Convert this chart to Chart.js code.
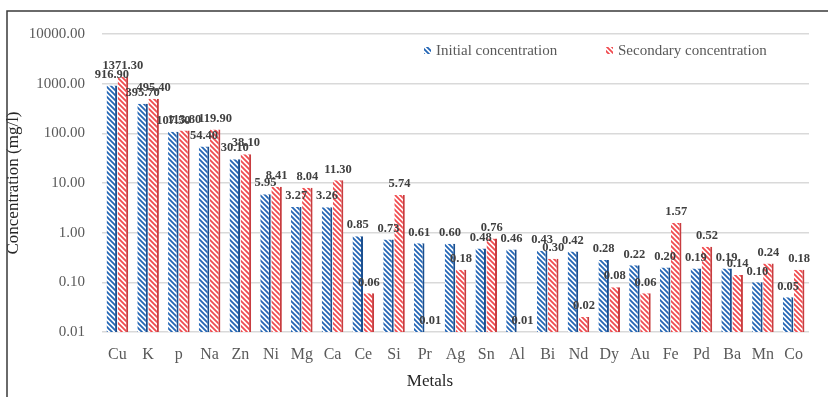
<!DOCTYPE html>
<html>
<head>
<meta charset="utf-8">
<title>Metal concentrations</title>
<script src="https://cdn.jsdelivr.net/npm/chart.js@4.4.0/dist/chart.umd.min.js"></script>
<style>
  html, body { margin: 0; padding: 0; background: #fff; }
  #wrap { position: relative; width: 828px; height: 397px; }
</style>
</head>
<body>
<div id="wrap"><canvas id="metalChart" width="828" height="397"></canvas></div>
<script>
// ---------- data ---------- //
const metals = ["Cu", "K", "p", "Na", "Zn", "Ni", "Mg", "Ca", "Ce", "Si", "Pr", "Ag",
  "Sn", "Al", "Bi", "Nd", "Dy", "Au", "Fe", "Pd", "Ba", "Mn", "Co"];
const initialConc = [916.90, 395.70, 107.50, 54.40, 30.10, 5.95, 3.27, 3.26, 0.85, 0.73, 0.61, 0.60,
  0.48, 0.46, 0.43, 0.42, 0.28, 0.22, 0.20, 0.19, 0.19, 0.10, 0.05];
const secondaryConc = [1371.30, 495.40, 113.80, 119.90, 38.10, 8.41, 8.04, 11.30, 0.06, 5.74, 0.01, 0.18,
  0.76, 0.01, 0.30, 0.02, 0.08, 0.06, 1.57, 0.52, 0.14, 0.24, 0.18];
const yTicks = [0.01, 0.1, 1, 10, 100, 1000, 10000];

const SERIF = "'Liberation Serif', 'Times New Roman', serif";

// diagonal hatch fill used for the bars and the legend swatches
function makeHatch(color) {
  const size = 5;
  const c = document.createElement("canvas");
  c.width = size;
  c.height = size;
  const g = c.getContext("2d");
  g.fillStyle = "#ffffff";
  g.fillRect(0, 0, size, size);
  g.strokeStyle = color;
  g.lineWidth = 1.8;
  g.beginPath();
  g.moveTo(-1, -1); g.lineTo(size + 1, size + 1);
  g.moveTo(-1, size - 1); g.lineTo(1, size + 1);
  g.moveTo(size - 1, -1); g.lineTo(size + 1, 1);
  g.stroke();
  return g.createPattern(c, "repeat");
}

const blueHatch = makeHatch("#2466b5");
const redHatch = makeHatch("#f04b4f");

// value labels above every bar
const valueLabels = {
  id: "valueLabels",
  afterDatasetsDraw(chart) {
    const ctx = chart.ctx;
    ctx.save();
    ctx.font = "bold 12.5px " + SERIF;
    ctx.fillStyle = "#404040";
    ctx.textAlign = "center";
    ctx.textBaseline = "middle";
    chart.data.datasets.forEach((ds, i) => {
      chart.getDatasetMeta(i).data.forEach((bar, j) => {
        ctx.fillText(ds.data[j].toFixed(2), bar.x, bar.y - 11);
      });
    });
    ctx.restore();
  }
};

// legend inside the plot, x title and the outer frame lines
const insideLegend = {
  id: "insideLegend",
  afterDraw(chart) {
    const ctx = chart.ctx;
    ctx.save();
    ctx.strokeStyle = "#3a3a3a";
    ctx.lineWidth = 1.5;
    ctx.beginPath();
    ctx.moveTo(7, 397);
    ctx.lineTo(7, 11);
    ctx.lineTo(828, 11);
    ctx.stroke();

    ctx.font = "15px " + SERIF;
    ctx.textBaseline = "middle";
    const items = [
      { x: 424, fill: blueHatch, text: chart.data.datasets[0].label },
      { x: 606, fill: redHatch, text: chart.data.datasets[1].label }
    ];
    items.forEach(it => {
      ctx.fillStyle = it.fill;
      ctx.fillRect(it.x, 47, 7, 7);
      ctx.fillStyle = "#595959";
      ctx.fillText(it.text, it.x + 12, 51);
    });

    ctx.font = "17px " + SERIF;
    ctx.fillStyle = "#262626";
    ctx.textAlign = "center";
    ctx.fillText("Metals", 430, 382);
    ctx.restore();
  }
};

const ctx = document.getElementById("metalChart").getContext("2d");
const metalChart = new Chart(ctx, {
  type: "bar",
  data: {
    labels: metals,
    datasets: [
      {
        label: "Initial concentration",
        data: initialConc,
        backgroundColor: blueHatch,
        borderColor: "#1b4f8f",
        borderWidth: { top: 0, left: 0, bottom: 0, right: 2 },
        borderSkipped: false
      },
      {
        label: "Secondary concentration",
        data: secondaryConc,
        backgroundColor: redHatch,
        borderColor: "#c83c3f",
        borderWidth: { top: 0, left: 0, bottom: 0, right: 2 },
        borderSkipped: false
      }
    ]
  },
  options: {
    responsive: false,
    animation: false,
    categoryPercentage: 0.72,
    barPercentage: 0.95,
    layout: { padding: { top: 34, right: 19, bottom: 0, left: 0 } },
    plugins: {
      legend: { display: false },
      tooltip: { enabled: false }
    },
    scales: {
      x: {
        grid: { display: false },
        border: { display: false },
        ticks: { color: "#595959", font: { family: SERIF, size: 16 }, padding: 5 },
        afterFit(scale) { scale.height = 65; }
      },
      y: {
        type: "logarithmic",
        min: 0.01,
        max: 10000,
        afterBuildTicks(scale) { scale.ticks = yTicks.map(v => ({ value: v })); },
        grid: { color: "#d9d9d9", lineWidth: 1.5, drawTicks: false },
        border: { display: false },
        ticks: {
          color: "#595959",
          font: { family: SERIF, size: 15 },
          padding: 17,
          callback: v => Number(v).toFixed(2)
        },
        title: {
          display: true,
          text: "Concentration (mg/l)",
          color: "#262626",
          font: { family: SERIF, size: 17 },
          padding: { top: 3, bottom: 0 }
        },
        afterFit(scale) { scale.width = 102; }
      }
    }
  },
  plugins: [valueLabels, insideLegend]
});
</script>
</body>
</html>
